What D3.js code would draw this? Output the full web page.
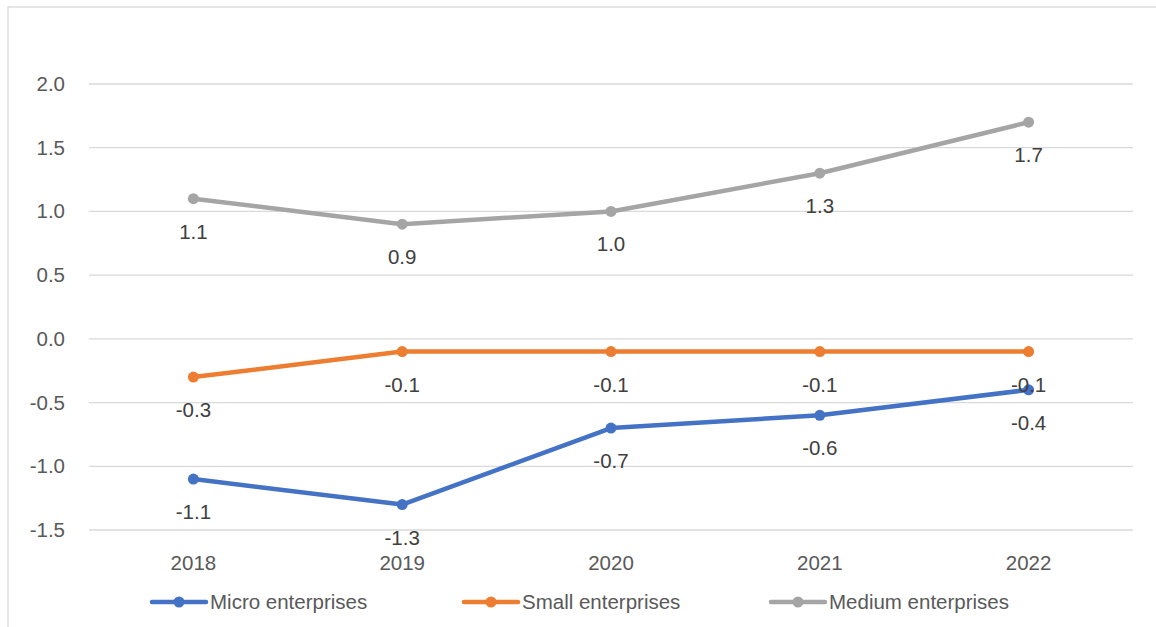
<!DOCTYPE html>
<html>
<head>
<meta charset="utf-8">
<script src="https://cdn.jsdelivr.net/npm/d3@7"></script>
<style>
  html, body { margin: 0; padding: 0; background: #fff; }
  svg { display: block; font-family: "Liberation Sans", Arial, sans-serif; }
</style>
</head>
<body>
<svg id="chart" width="1156" height="627"></svg>
<script>
(function() {
  'use strict';

  // Data
  var years = ['2018', '2019', '2020', '2021', '2022'];
  var micro = [-1.1, -1.3, -0.7, -0.6, -0.4];
  var small = [-0.3, -0.1, -0.1, -0.1, -0.1];
  var medium = [1.1, 0.9, 1.0, 1.3, 1.7];
  var yTicks = [-1.5, -1.0, -0.5, 0.0, 0.5, 1.0, 1.5, 2.0];

  var series = [
    { name: 'Micro enterprises', values: micro, color: '#4472c4' },
    { name: 'Small enterprises', values: small, color: '#ed7d31' },
    { name: 'Medium enterprises', values: medium, color: '#a5a5a5' }
  ];

  // plain hyphen instead of unicode minus
  var fmt = function(d) { return d3.format('.1f')(d).replace('\u2212', '-'); };
  var fs = '20.5px';

  var svg = d3.select('#chart');
  var left = 89, right = 1133, top = 84, bottom = 530;

  // chart area border (open to the right/bottom like the crop)
  svg.append('rect').attr('x', 8).attr('y', 7).attr('width', 1200).attr('height', 700)
    .attr('fill', 'none').attr('stroke', '#d9d9d9').attr('stroke-width', 1.3);

  var x = d3.scaleBand().domain(years).range([left, right]).padding(0);
  var y = d3.scaleLinear().domain([-1.5, 2.0]).range([bottom, top]);
  var cx = function(i) { return x(years[i]) + x.bandwidth() / 2; };

  // gridlines
  svg.append('g').selectAll('line').data(yTicks).enter().append('line')
    .attr('x1', left).attr('x2', right)
    .attr('y1', function(d) { return y(d); }).attr('y2', function(d) { return y(d); })
    .attr('stroke', '#d9d9d9').attr('stroke-width', 1.3);

  // y axis labels
  var yAxis = svg.append('g').attr('transform', 'translate(' + left + ',0)')
    .call(d3.axisLeft(y).tickValues(yTicks).tickFormat(fmt).tickSize(0).tickPadding(24));
  yAxis.select('.domain').remove();
  yAxis.selectAll('text').attr('fill', '#595959').attr('font-size', fs)
    .attr('font-family', '"Liberation Sans", Arial, sans-serif');

  // x axis labels
  var xAxis = svg.append('g').attr('transform', 'translate(0,' + bottom + ')')
    .call(d3.axisBottom(x).tickSize(0).tickPadding(25));
  xAxis.select('.domain').remove();
  xAxis.selectAll('text').attr('fill', '#595959').attr('font-size', fs)
    .attr('font-family', '"Liberation Sans", Arial, sans-serif');

  var line = d3.line().x(function(d, i) { return cx(i); }).y(function(d) { return y(d); });

  series.forEach(function(s) {
    var g = svg.append('g');
    g.append('path').datum(s.values).attr('d', line)
      .attr('fill', 'none').attr('stroke', s.color).attr('stroke-width', 4.5)
      .attr('stroke-linejoin', 'round').attr('stroke-linecap', 'round');
    g.selectAll('circle').data(s.values).enter().append('circle')
      .attr('cx', function(d, i) { return cx(i); }).attr('cy', function(d) { return y(d); })
      .attr('r', 5.5).attr('fill', s.color);
  });

  // data labels (drawn after all lines so they sit on top)
  series.forEach(function(s) {
    svg.append('g').selectAll('text').data(s.values).enter().append('text')
      .attr('x', function(d, i) { return cx(i); })
      .attr('y', function(d) { return y(d) + 40; })
      .attr('text-anchor', 'middle').attr('fill', '#404040').attr('font-size', fs)
      .text(fmt);
  });

  // legend
  var legendX = [152, 464, 771];
  var legend = svg.append('g').selectAll('g').data(series).enter().append('g')
    .attr('transform', function(d, i) { return 'translate(' + legendX[i] + ',602)'; });
  legend.append('line').attr('x1', 0).attr('x2', 54).attr('y1', 0).attr('y2', 0)
    .attr('stroke', function(d) { return d.color; }).attr('stroke-width', 4.5)
    .attr('stroke-linecap', 'round');
  legend.append('circle').attr('cx', 27).attr('cy', 0).attr('r', 5.5)
    .attr('fill', function(d) { return d.color; });
  legend.append('text').attr('x', 58).attr('y', 7).attr('fill', '#595959')
    .attr('font-size', fs).text(function(d) { return d.name; });
})();
</script>
</body>
</html>
